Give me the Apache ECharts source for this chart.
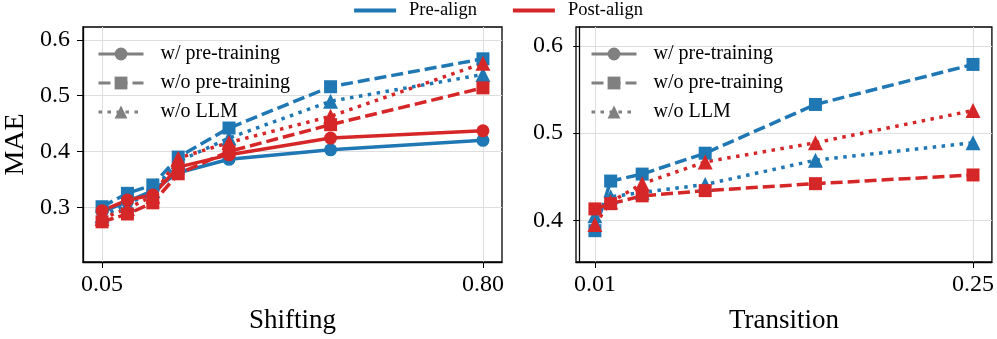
<!DOCTYPE html>
<html>
<head>
<meta charset="utf-8">
<script src="https://cdn.jsdelivr.net/npm/echarts@6/dist/echarts.min.js"></script>
<style>
  html, body { margin: 0; padding: 0; background: #fff; }
  #chart { width: 997px; height: 339px; }
</style>
</head>
<body>
<div id="chart"></div>
<script>
// --- data ---
const shiftX = [0.05, 0.1, 0.15, 0.2, 0.3, 0.5, 0.8];
const shiftPreWithPT = [0.292, 0.31, 0.33, 0.362, 0.386, 0.403, 0.42];
const shiftPostWithPT = [0.294, 0.313, 0.322, 0.372, 0.394, 0.424, 0.437];
const shiftPreNoPT = [0.301, 0.325, 0.34, 0.39, 0.442, 0.516, 0.566];
const shiftPostNoPT = [0.274, 0.288, 0.308, 0.36, 0.4, 0.448, 0.514];
const shiftPreNoLLM = [0.285, 0.305, 0.33, 0.382, 0.424, 0.49, 0.538];
const shiftPostNoLLM = [0.28, 0.298, 0.32, 0.388, 0.416, 0.463, 0.558];

const transX = [0.01, 0.02, 0.04, 0.08, 0.15, 0.25];
const transPreNoPT = [0.388, 0.445, 0.453, 0.477, 0.533, 0.579];
const transPostNoPT = [0.413, 0.419, 0.428, 0.434, 0.442, 0.452];
const transPreNoLLM = [0.405, 0.427, 0.432, 0.441, 0.469, 0.489];
const transPostNoLLM = [0.395, 0.421, 0.442, 0.467, 0.489, 0.526];

const shiftTicks = [0.05, 0.8];
const transTicks = [0.01, 0.25];
const shiftYTicks = [0.3, 0.4, 0.5, 0.6];
const transYTicks = [0.4, 0.5, 0.6];

const methodNames = ["w/ pre-training", "w/o pre-training", "w/o LLM"];
const alignNames = ["Pre-align", "Post-align"];

const BLUE = "#1f77b4";
const RED = "#d62728";
const GRAY = "#808080";
const FONT = "Liberation Serif";

const DASHED = [12, 5];
const DOTTED = [3.5, 5.5];

const chart = echarts.init(document.getElementById("chart"));

function pairs(xs, ys) {
  return xs.map((x, i) => [x, ys[i]]);
}

function lineSeries(name, gridIdx, xs, ys, color, symbol, type) {
  return {
    name: name,
    type: "line",
    xAxisIndex: gridIdx,
    yAxisIndex: gridIdx,
    data: pairs(xs, ys),
    symbol: symbol,
    symbolSize: symbol === "triangle" ? 15 : 13,
    showSymbol: true,
    animation: false,
    color: color,
    itemStyle: { color: color },
    lineStyle: { color: color, width: 3.5, type: type, cap: "butt" }
  };
}

function xAxis(gridIdx, min, max, ticks, name) {
  return {
    type: "value",
    gridIndex: gridIdx,
    min: min,
    max: max,
    name: name,
    nameLocation: "middle",
    nameGap: 45,
    nameTextStyle: { fontFamily: FONT, fontSize: 27, color: "#000" },
    axisLine: { show: true, lineStyle: { color: "#000", width: 1.3 } },
    axisTick: { show: true, length: 6, customValues: ticks, lineStyle: { color: "#000", width: 1 } },
    axisLabel: {
      customValues: ticks,
      margin: 11,
      fontFamily: FONT,
      fontSize: 24,
      color: "#000",
      formatter: v => v.toFixed(2)
    },
    splitLine: { show: true, lineStyle: { color: "#dedede", width: 1 } }
  };
}

function yAxis(gridIdx, min, max, ticks, name) {
  return {
    type: "value",
    gridIndex: gridIdx,
    min: min,
    max: max,
    name: name,
    nameLocation: "middle",
    nameGap: 53,
    nameTextStyle: { fontFamily: FONT, fontSize: 28, color: "#000" },
    axisLine: { show: true, lineStyle: { color: "#000", width: 1.3 } },
    axisTick: { show: true, length: 6, customValues: ticks, lineStyle: { color: "#000", width: 1 } },
    axisLabel: {
      customValues: ticks,
      margin: 13,
      fontFamily: FONT,
      fontSize: 24,
      color: "#000",
      formatter: v => v.toFixed(1)
    },
    splitLine: { show: true, lineStyle: { color: "#dedede", width: 1 } }
  };
}

const series = [
  // Shifting panel: blue first, red on top
  lineSeries("s-pre-1", 0, shiftX, shiftPreWithPT, BLUE, "circle", "solid"),
  lineSeries("s-pre-2", 0, shiftX, shiftPreNoPT, BLUE, "rect", DASHED),
  lineSeries("s-pre-3", 0, shiftX, shiftPreNoLLM, BLUE, "triangle", DOTTED),
  lineSeries("s-post-1", 0, shiftX, shiftPostWithPT, RED, "circle", "solid"),
  lineSeries("s-post-2", 0, shiftX, shiftPostNoPT, RED, "rect", DASHED),
  lineSeries("s-post-3", 0, shiftX, shiftPostNoLLM, RED, "triangle", DOTTED),
  // Transition panel
  lineSeries("t-pre-2", 1, transX, transPreNoPT, BLUE, "rect", DASHED),
  lineSeries("t-pre-3", 1, transX, transPreNoLLM, BLUE, "triangle", DOTTED),
  lineSeries("t-post-2", 1, transX, transPostNoPT, RED, "rect", DASHED),
  lineSeries("t-post-3", 1, transX, transPostNoLLM, RED, "triangle", DOTTED),
  // legend-only entries
  lineSeries(methodNames[0], 0, [], [], GRAY, "circle", "solid"),
  lineSeries(methodNames[1], 0, [], [], GRAY, "rect", DASHED),
  lineSeries(methodNames[2], 0, [], [], GRAY, "triangle", DOTTED),
  lineSeries(alignNames[0], 0, [], [], BLUE, "none", "solid"),
  lineSeries(alignNames[1], 0, [], [], RED, "none", "solid")
];

function innerLegend(left) {
  return {
    data: methodNames,
    orient: "vertical",
    left: left,
    top: 39,
    itemWidth: 45,
    itemHeight: 16,
    itemGap: 9,
    selectedMode: false,
    lineStyle: { width: 3 },
    textStyle: { fontFamily: FONT, fontSize: 20, lineHeight: 20, color: "#000", padding: [0, 0, 0, 12] }
  };
}

const option = {
  animation: false,
  backgroundColor: "#fff",
  grid: [
    { left: 83, top: 27, width: 419, height: 235, show: true, borderColor: "#000", borderWidth: 1.3 },
    { left: 576, top: 27, width: 418, height: 235, show: true, borderColor: "#000", borderWidth: 1.3 }
  ],
  legend: [
    {
      data: alignNames,
      left: "center",
      top: -4,
      icon: "rect",
      itemWidth: 42,
      itemHeight: 4,
      itemGap: 36,
      selectedMode: false,
      textStyle: { fontFamily: FONT, fontSize: 18.5, color: "#000", padding: [0, 0, 0, 8] }
    },
    innerLegend(92),
    innerLegend(585)
  ],
  xAxis: [
    xAxis(0, 0.0125, 0.8375, shiftTicks, "Shifting"),
    xAxis(1, -0.002, 0.262, transTicks, "Transition")
  ],
  yAxis: [
    yAxis(0, 0.202, 0.623, shiftYTicks, "MAE"),
    yAxis(1, 0.352, 0.622, transYTicks, "")
  ],
  series: series
};

chart.setOption(option);
</script>
</body>
</html>
